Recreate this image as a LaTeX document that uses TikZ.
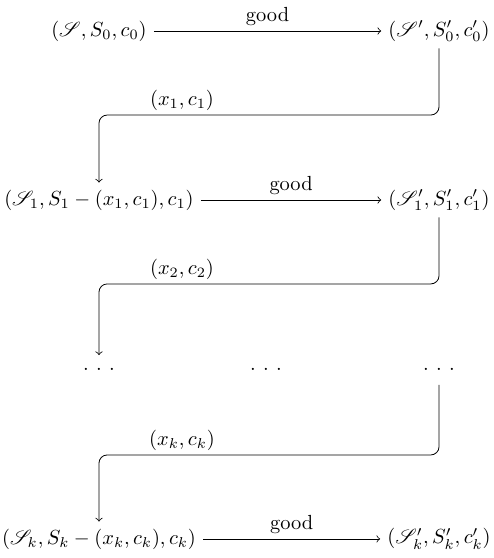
\documentclass[tikz,border=0pt]{standalone}
\usepackage{amsmath}
\usepackage{amssymb}
\usepackage{mathrsfs}
\newcommand{\gapdots}{{\cdot}\mkern6.5mu{\cdot}\mkern6.5mu{\cdot}}
\tikzset{
	st/.style={inner sep=0.333em},
	dt/.style={inner sep=0.333em,text height=6pt,text depth=1.5pt},
	lb/.style={inner sep=0.5ex},
	elbow/.style={->,rounded corners}
}
\begin{document}
\begin{tikzpicture}
	\useasboundingbox (0,0) rectangle (8.498,-9.600);

	\node [st] (s0) at (1.703,-0.533) {$(\mathscr{S}, S_0, c_0)$};
	\node [st] (s0p) at (7.553,-0.533) {$(\mathscr{S}', S'_0, c'_0)$};
	\node [st] (s1) at (1.703,-3.441) {$(\mathscr{S}_1, S_1 - (x_1,c_1), c_1)$};
	\node [st] (s1p) at (7.553,-3.441) {$(\mathscr{S}'_1, S'_1, c'_1)$};
	\node [dt] (d1) at (1.703,-6.365) {$\gapdots$};
	\node [dt] (d2) at (4.576,-6.365) {$\gapdots$};
	\node [dt] (d3) at (7.553,-6.365) {$\gapdots$};
	\node [st] (sk) at (1.703,-9.272) {$(\mathscr{S}_k, S_k - (x_k,c_k), c_k)$};
	\node [st] (skp) at (7.553,-9.272) {$(\mathscr{S}'_k, S'_k, c'_k)$};

	\coordinate (m1) at (3.131,-1.979);
	\coordinate (m2) at (3.131,-4.885);
	\coordinate (m3) at (3.131,-7.827);

	\draw [->] (s0) -- node [lb,above] {good} (s0p);
	\draw [->] (s1) -- node [lb,above] {good} (s1p);
	\draw [->] (sk) -- node [lb,above] {good} (skp);

	\draw [elbow] (s0p) |- (m1) -| (s1);
	\draw [elbow] (s1p) |- (m2) -| (d1);
	\draw [elbow] (d3) |- (m3) -| (sk);

	\node [lb,above] at (m1) {$(x_1,c_1)$};
	\node [lb,above] at (m2) {$(x_2,c_2)$};
	\node [lb,above] at (m3) {$(x_k,c_k)$};
\end{tikzpicture}
\end{document}
